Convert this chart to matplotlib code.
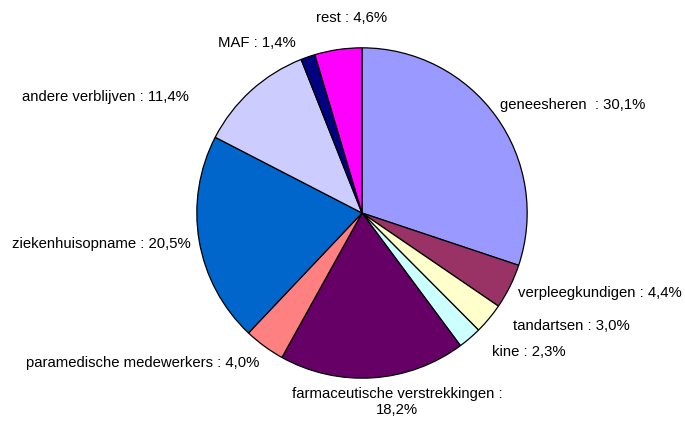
import matplotlib.pyplot as plt

# aandeel per uitgavenpost (%)
categories = ["geneesheren", "verpleegkundigen", "tandartsen", "kine",
              "farmaceutische verstrekkingen", "paramedische medewerkers",
              "ziekenhuisopname", "andere verblijven", "MAF", "rest"]
shares = [30.1, 4.4, 3.0, 2.3, 18.2, 4.0, 20.5, 11.4, 1.4, 4.6]
colors = ["#9999FF", "#993366", "#FFFFCC", "#CCFFFF", "#660066",
          "#FF8080", "#0066CC", "#CCCCFF", "#000080", "#FF00FF"]

# label placement in pixels (x, y from top, ha)
label_pos = [(500, 105, "left"), (518, 293, "left"), (513, 326, "left"),
             (492, 352, "left"), (397, 402, "center"), (26, 363, "left"),
             (12, 244, "left"), (22, 97, "left"), (218, 43, "left"),
             (352, 18, "center")]

W, H = 685, 421
fig = plt.figure(figsize=(W / 100, H / 100), dpi=100)
cx, cy, r = 362, 213, 166
ax = fig.add_axes([(cx - r) / W, (H - cy - r) / H, 2 * r / W, 2 * r / H])

ax.pie(shares, colors=colors, startangle=90, counterclock=False, radius=1,
       wedgeprops=dict(edgecolor="black", linewidth=0.9))
ax.set_xlim(-1.005, 1.005)
ax.set_ylim(-1.005, 1.005)
ax.axis("off")

for cat, val, (x, y, ha) in zip(categories, shares, label_pos):
    pct = f"{val:.1f}".replace(".", ",") + "%"
    if cat == "farmaceutische verstrekkingen":
        txt = f"{cat} :\n{pct}"
    elif cat == "geneesheren":
        txt = f"{cat}  : {pct}"
    else:
        txt = f"{cat} : {pct}"
    fig.text(x / W, 1 - y / H, txt, ha=ha, va="center", fontsize=10.75,
             family="Liberation Sans", color="black", linespacing=1.1)

fig.savefig("out.png", dpi=100)
